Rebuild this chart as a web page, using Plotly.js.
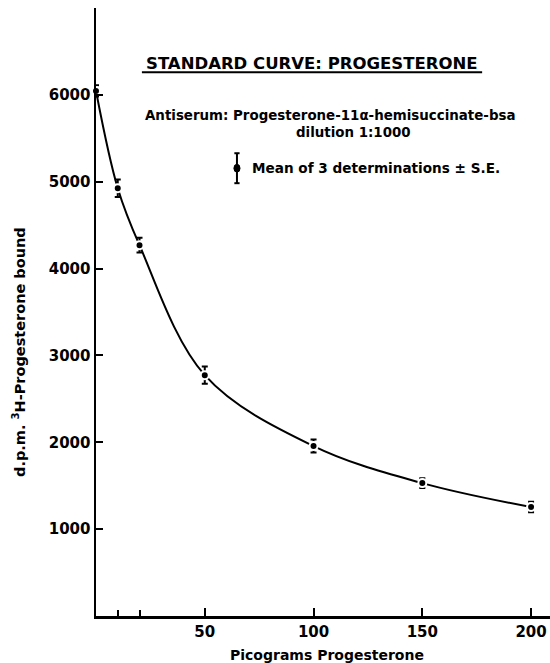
<!DOCTYPE html>
<html>
<head>
<meta charset="utf-8">
<script src="https://cdn.plot.ly/plotly-3.0.1.min.js"></script>
<style>html,body{margin:0;padding:0;background:#fff;}#chart{width:550px;height:663px;}</style>
</head>
<body>
<div id="chart"></div>
<script>
// Data
const picograms = [0, 10, 20, 50, 100, 150, 200];
const dpmBound = [6045, 4925, 4269, 2773, 1956, 1530, 1254];
const stdError = [65, 100, 85, 100, 75, 55, 60];
const xTickVals = [50, 100, 150, 200];
const xTickText = ['50', '100', '150', '200'];
const xMinorTicks = [10, 20];
const yTickVals = [1000, 2000, 3000, 4000, 5000, 6000];
const yTickText = ['1000', '2000', '3000', '4000', '5000', '6000'];

const FONT = 'DejaVu Sans, Arial, sans-serif';

const curve = {
  x: picograms, y: dpmBound, type: 'scatter', mode: 'lines',
  line: {color: '#000', width: 2, shape: 'spline', smoothing: 1},
  hoverinfo: 'skip', cliponaxis: false
};
const points = {
  x: picograms, y: dpmBound, type: 'scatter', mode: 'markers',
  marker: {color: '#000', size: 8, line: {color: '#fff', width: 2}},
  error_y: {type: 'data', array: stdError, visible: true, color: '#000', thickness: 2, width: 3},
  cliponaxis: false
};

const layout = {
  width: 550, height: 663,
  margin: {l: 96, r: 0, t: 8, b: 47},
  paper_bgcolor: '#fff', plot_bgcolor: '#fff',
  showlegend: false,
  font: {family: FONT, color: '#000', size: 13},
  xaxis: {
    range: [0, 208.7], showgrid: false, zeroline: false,
    showline: true, linecolor: '#000', linewidth: 2.5,
    ticks: 'inside', ticklen: 8, tickwidth: 2, tickcolor: '#000',
    tickmode: 'array', tickvals: xTickVals, ticktext: xTickText,
    minor: {tickmode: 'array', tickvals: xMinorTicks, ticks: 'inside', ticklen: 6, tickwidth: 2, tickcolor: '#000', showgrid: false},
    tickfont: {family: FONT, size: 15, weight: 700, color: '#000'}
  },
  yaxis: {
    range: [0, 7000], showgrid: false, zeroline: false,
    showline: true, linecolor: '#000', linewidth: 2.5,
    ticks: 'inside', ticklen: 7, tickwidth: 2, tickcolor: '#000',
    tickmode: 'array', tickvals: yTickVals, ticktext: yTickText,
    tickfont: {family: FONT, size: 15, weight: 700, color: '#000'}
  },
  annotations: [
    {text: 'STANDARD CURVE: PROGESTERONE', x: 99.3, y: 6364, xref: 'x', yref: 'y',
     showarrow: false, font: {family: FONT, size: 16.5, weight: 700, color: '#000'}},
    {text: 'Antiserum: Progesterone-11α-hemisuccinate-bsa', x: 107.6, y: 5765, xref: 'x', yref: 'y',
     showarrow: false, font: {family: FONT, size: 13.4, weight: 700, color: '#000'}},
    {text: 'dilution 1:1000', x: 118.2, y: 5570, xref: 'x', yref: 'y',
     showarrow: false, font: {family: FONT, size: 13.4, weight: 700, color: '#000'}},
    {text: 'Mean of 3 determinations ± S.E.', x: 70.8, y: 5155, xref: 'x', yref: 'y',
     xanchor: 'left', showarrow: false, font: {family: FONT, size: 13.6, weight: 700, color: '#000'}},
    {text: 'Picograms Progesterone', x: 106.2, y: -0.064, xref: 'x', yref: 'paper', yanchor: 'middle',
     showarrow: false, font: {family: FONT, size: 14, weight: 700, color: '#000'}},
    {text: 'd.p.m. <sup>3</sup>H-Progesterone bound', x: -0.17, y: 0.434, xref: 'paper', yref: 'paper',
     xanchor: 'center', yanchor: 'middle',
     textangle: -90, showarrow: false, font: {family: FONT, size: 14.5, weight: 700, color: '#000'}}
  ],
  shapes: [
    {type: 'line', xref: 'x', yref: 'y', x0: 21.1, x1: 177.5, y0: 6260, y1: 6260, line: {color: '#000', width: 2}},
    {type: 'line', xref: 'x', yref: 'y', x0: 64.8, x1: 64.8, y0: 4983, y1: 5328, line: {color: '#000', width: 2}},
    {type: 'line', xref: 'x', yref: 'y', x0: 63.6, x1: 66.0, y0: 5328, y1: 5328, line: {color: '#000', width: 2}},
    {type: 'line', xref: 'x', yref: 'y', x0: 63.6, x1: 66.0, y0: 4983, y1: 4983, line: {color: '#000', width: 2}},
    {type: 'circle', xref: 'x', yref: 'y', x0: 63.4, x1: 66.2, y0: 5110, y1: 5200, fillcolor: '#000', line: {color: '#000', width: 1}}
  ]
};

Plotly.newPlot('chart', [curve, points], layout, {staticPlot: true, displayModeBar: false});
</script>
</body>
</html>
